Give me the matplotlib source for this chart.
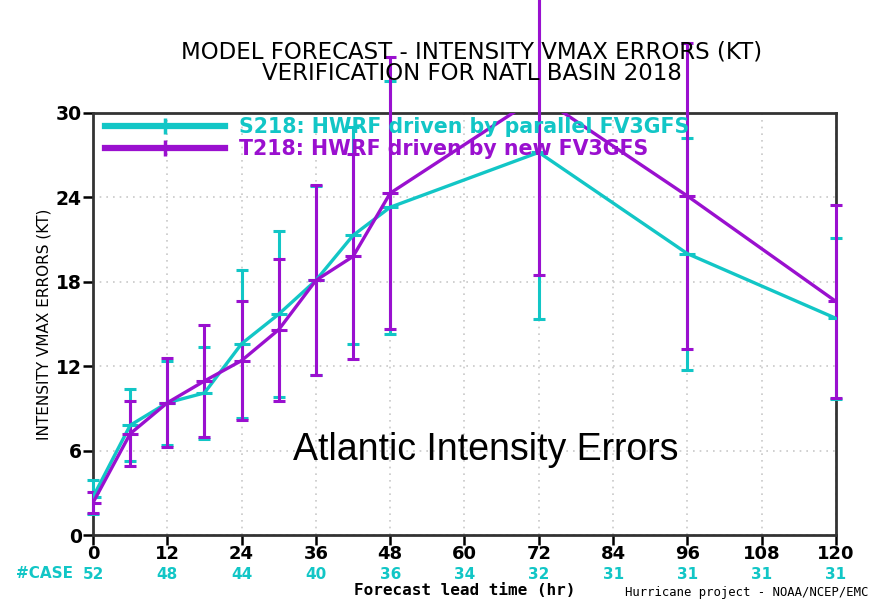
import matplotlib
matplotlib.use("Agg")
import matplotlib.pyplot as plt
from matplotlib.lines import Line2D

# forecast lead times (hr)
hours = [0, 6, 12, 18, 24, 30, 36, 42, 48, 72, 96, 120]

# S218: HWRF driven by parallel FV3GFS
s218_err = [2.7, 7.8, 9.4, 10.1, 13.6, 15.7, 18.1, 21.3, 23.3, 27.2, 20.0, 15.4]
s218_sd = [1.2, 2.55, 3.0, 3.3, 5.25, 5.9, 6.7, 7.7, 9.0, 11.85, 8.25, 5.7]

# T218: HWRF driven by new FV3GFS
t218_err = [2.3, 7.2, 9.4, 10.95, 12.4, 14.6, 18.1, 19.8, 24.3, 31.2, 24.1, 16.6]
t218_sd = [0.73, 2.3, 3.15, 3.95, 4.2, 5.05, 6.75, 7.3, 9.65, 12.7, 10.85, 6.85]

tick_hours = [0, 12, 24, 36, 48, 60, 72, 84, 96, 108, 120]
cases = [52, 48, 44, 40, 36, 34, 32, 31, 31, 31, 31]
y_ticks = [0, 6, 12, 18, 24, 30]

CYAN = "#12C6C6"
PURPLE = "#9A10CF"
SANS = "DejaVu Sans"

fig = plt.figure(figsize=(8.75, 6.01), dpi=100)
ax = fig.add_axes([0.1063, 0.1098, 0.8491, 0.7022])


def draw_series(x, y, err, color):
    line, caps, bars = ax.errorbar(
        x, y, yerr=err, color=color, lw=2.4, elinewidth=2.2,
        capsize=4, capthick=2.2, marker="_", markersize=11,
        markeredgewidth=2.2, zorder=3)
    line.set_clip_on(True)
    for c in caps:
        c.set_clip_on(False)
    for b in bars:
        b.set_clip_on(False)


draw_series(hours, s218_err, s218_sd, CYAN)
draw_series(hours, t218_err, t218_sd, PURPLE)

ax.set_xlim(0, 120)
ax.set_ylim(0, 30)
ax.set_xticks(tick_hours)
ax.set_yticks(y_ticks)
ax.set_xticklabels([str(h) for h in tick_hours], family=SANS,
                   fontsize=13, fontweight="bold")
ax.set_yticklabels([str(v) for v in y_ticks], family=SANS,
                   fontsize=13.5, fontweight="bold")
ax.tick_params(direction="out", length=7, width=1.8, pad=1)
ax.tick_params(axis="x", pad=0)
ax.grid(True, color="#c8c8c8", linestyle=(0, (1, 3)), lw=1.2)
for sp in ax.spines.values():
    sp.set_linewidth(2)
    sp.set_color("#333333")

# case counts under the x tick labels
fig.text(0.018, 0.045, "#CASE", color=CYAN, family=SANS, fontsize=11,
         fontweight="bold", va="center", ha="left")
for h, n in zip(tick_hours, cases):
    ax.text(h, -0.0925, str(n), transform=ax.get_xaxis_transform(),
            color=CYAN, family=SANS, fontsize=11, fontweight="bold",
            ha="center", va="center")

ax.set_ylabel("INTENSITY VMAX ERRORS (KT)", family=SANS, fontsize=11,
              labelpad=3)
fig.text(0.531, 0.017, "Forecast lead time (hr)", family="DejaVu Sans Mono",
         fontsize=11.5, fontweight="bold", ha="center", va="center")
fig.text(0.992, 0.014, "Hurricane project - NOAA/NCEP/EMC",
         family="DejaVu Sans Mono", fontsize=8.8, ha="right", va="center")

fig.text(0.539, 0.914, "MODEL FORECAST - INTENSITY VMAX ERRORS (KT)",
         family=SANS, fontsize=16.5, ha="center", va="center")
fig.text(0.539, 0.877, "VERIFICATION FOR NATL BASIN 2018",
         family=SANS, fontsize=16.5, ha="center", va="center")

handles = [
    Line2D([], [], color=CYAN, lw=4.5, marker="|", markersize=12,
           markeredgewidth=2.5),
    Line2D([], [], color=PURPLE, lw=4.5, marker="|", markersize=12,
           markeredgewidth=2.5),
]
labels = ["S218: HWRF driven by parallel FV3GFS",
          "T218: HWRF driven by new FV3GFS"]
leg = ax.legend(handles, labels, loc="upper left",
                bbox_to_anchor=(0.0, 1.02), frameon=False,
                handlelength=5.8, handletextpad=0.7, labelspacing=0.12,
                borderaxespad=0.2,
                prop={"family": SANS, "weight": "bold", "size": 14.8})
for txt, col in zip(leg.get_texts(), [CYAN, PURPLE]):
    txt.set_color(col)

ax.text(0.528, 0.201, "Atlantic Intensity Errors", transform=ax.transAxes,
        family="Liberation Sans", fontsize=27, ha="center", va="center")

fig.savefig("out.png", dpi=100)
